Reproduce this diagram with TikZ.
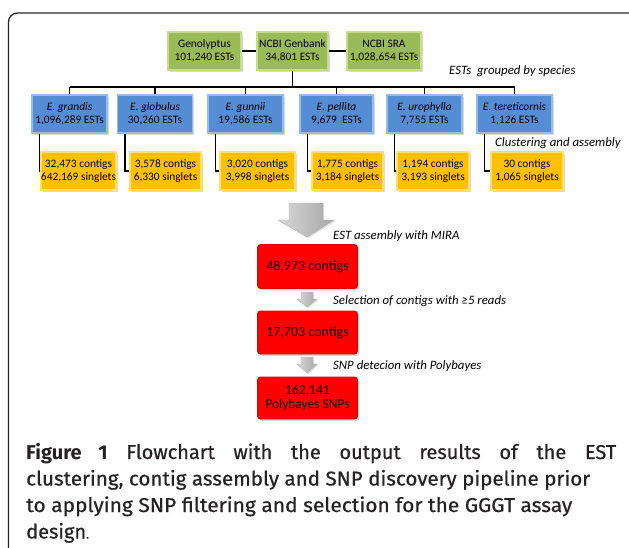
\documentclass[tikz,border=0pt]{standalone}
\usepackage{fontspec}
\usepackage{graphicx}
\setmainfont{Carlito}
\newfontfamily\capfont{Fira Sans}
\newfontfamily\capsemi{Fira Sans}[FakeBold=0.6]
\usetikzlibrary{shadows,calc}
\definecolor{grn}{RGB}{155,187,89}
\definecolor{grnb}{RGB}{196,220,140}
\definecolor{blu}{RGB}{84,141,212}
\definecolor{blub}{RGB}{150,188,235}
\definecolor{ylw}{RGB}{255,192,0}
\definecolor{ylwb}{RGB}{255,224,110}
\definecolor{rd}{RGB}{255,0,0}
\definecolor{rdb}{RGB}{215,0,0}
\definecolor{captc}{RGB}{38,34,35}
\begin{document}
\begin{tikzpicture}[x=1pt,y=-1pt,
  box/.style={draw, line width=1.3pt, align=center, inner sep=0pt,
    font=\fontsize{11.4}{12.8}\selectfont,
    drop shadow={shadow xshift=1.8pt, shadow yshift=-1.8pt, opacity=0.3}},
  gbox/.style={box, fill=grn, draw=grnb, minimum width=73pt, minimum height=38pt},
  bbox/.style={box, fill=blu, draw=blub, minimum width=75pt, minimum height=38pt},
  ybox/.style={box, fill=ylw, draw=ylwb, minimum width=72pt, minimum height=38pt},
  rbox/.style={box, fill=rd, draw=rdb, line width=0.8pt, rounded corners=3pt,
    minimum width=100pt, font=\fontsize{14}{15}\selectfont},
  conn/.style={line width=1.7pt, black},
  lab/.style={anchor=west, inner sep=0pt, font=\fontsize{12.8}{14}\selectfont\itshape},
  garrow/.style={left color=gray!30, right color=gray!70, draw=gray!60, line width=0.4pt,
    drop shadow={shadow xshift=1.2pt, shadow yshift=-1.2pt, opacity=0.25}},
  capline/.style={anchor=base west, inner sep=0pt, text=captc, font=\capsemi\fontsize{20}{26}\selectfont},
]
\useasboundingbox (0,0) rectangle (629,547);
\begin{scope}
\clip (0,0) rectangle (629,547);
\draw[line width=1.3pt, black!85, rounded corners=9pt] (8.5,13) rectangle (645,570);
\end{scope}

% green sources
\node[gbox] (g1) at (204.5,51) {Genolyptus\\101,240 ESTs};
\node[gbox, minimum width=71pt] (g2) at (292.5,51) {NCBI Genbank\\34,801 ESTs};
\node[gbox, minimum width=74pt] (g3) at (384,51) {NCBI SRA\\1,028,654 ESTs};
\draw[conn] (g1.east) -- (g2.west);
\draw[conn] (g2.east) -- (g3.west);
\node[lab] (l1) at (449,71) {ESTs\ \ grouped by species};

% blue species
\node[bbox] (b1) at (69.5,114) {\textit{E. grandis}\\1,096,289 ESTs};
\node[bbox] (b2) at (155,114) {\textit{E. globulus}\\30,260 ESTs};
\node[bbox] (b3) at (245.5,114) {\textit{E. gunnii}\\19,586 ESTs};
\node[bbox, minimum width=73pt] (b4) at (336.5,114) {\textit{E. pellita}\\9,679\ \ ESTs};
\node[bbox] (b5) at (424.5,114) {\textit{E. urophylla}\\7,755 ESTs};
\node[bbox] (b6) at (514.5,114) {\textit{E. tereticornis}\\1,126 ESTs};

\coordinate (bus) at (292.5,87);
\draw[conn] (g2.south) -- (bus);
\draw[conn] (b1.north |- bus) -- (b6.north |- bus);
\foreach \i in {1,...,6} \draw[conn] (b\i.north |- bus) -- (b\i.north);

\node[lab] (l2) at (495,143) {Clustering and assembly};

% yellow
\node[ybox, minimum width=75pt] (y1) at (78.5,171) {32,473 contigs\\642,169 singlets};
\node[ybox, minimum width=71pt] (y2) at (165.5,171) {3,578 contigs\\6,330 singlets};
\node[ybox, minimum width=75pt] (y3) at (257.5,171) {3,020 contigs\\3,998 singlets};
\node[ybox, minimum width=71pt] (y4) at (347.5,171) {1,775 contigs\\3,184 singlets};
\node[ybox, minimum width=72pt] (y5) at (433,171) {1,194 contigs\\3,193 singlets};
\node[ybox, minimum width=72pt] (y6) at (527,171) {30 contigs\\1,065 singlets};
\foreach \i in {1,...,6} \draw[conn] ([xshift=8pt]b\i.south west) |- (y\i.west);

% big gray arrow
\draw[garrow] (289,203) -- (323,203) -- (323,220) -- (334,220) -- (307,237) -- (278,220) -- (289,220) -- cycle;
\node[lab] (l3) at (333,236) {EST assembly with MIRA};

% red results
\node[rbox, minimum height=44pt] (r1) at (307.5,266.5) {48,973 contigs};
\node[rbox, minimum height=43pt] (r2) at (307.5,332.5) {17,703 contigs};
\node[rbox, minimum height=42pt, font=\fontsize{13.5}{14.5}\selectfont] (r3) at (307.5,398) {162,141\\Polybayes SNPs};

\draw[garrow] (301,292) -- (313,292) -- (313,299) -- (317,299) -- (307,307) -- (297,299) -- (301,299) -- cycle;
\draw[garrow] (301,357) -- (313,357) -- (313,364) -- (317,364) -- (307,373) -- (297,364) -- (301,364) -- cycle;
\node[lab] (l4) at (333,301) {Selection of contigs with ≥5 reads};
\node[lab] (l5) at (333,366) {SNP detecion with Polybayes};

% caption
\node[capline] (c1) at (26,459) {\makebox[590pt][s]{{\capfont\bfseries Figure 1} Flowchart with the output results of the EST}};
\node[capline] (c2) at (26,485.5) {\resizebox{564pt}{\height}{clustering, contig assembly and SNP discovery pipeline prior}};
\node[capline] (c3) at (26,512) {\resizebox{546pt}{\height}{to applying SNP filtering and selection for the GGGT assay}};
\node[capline] (c4) at (26,538.5) {design{\fontsize{12}{14}\selectfont.}};
\end{tikzpicture}
\end{document}
